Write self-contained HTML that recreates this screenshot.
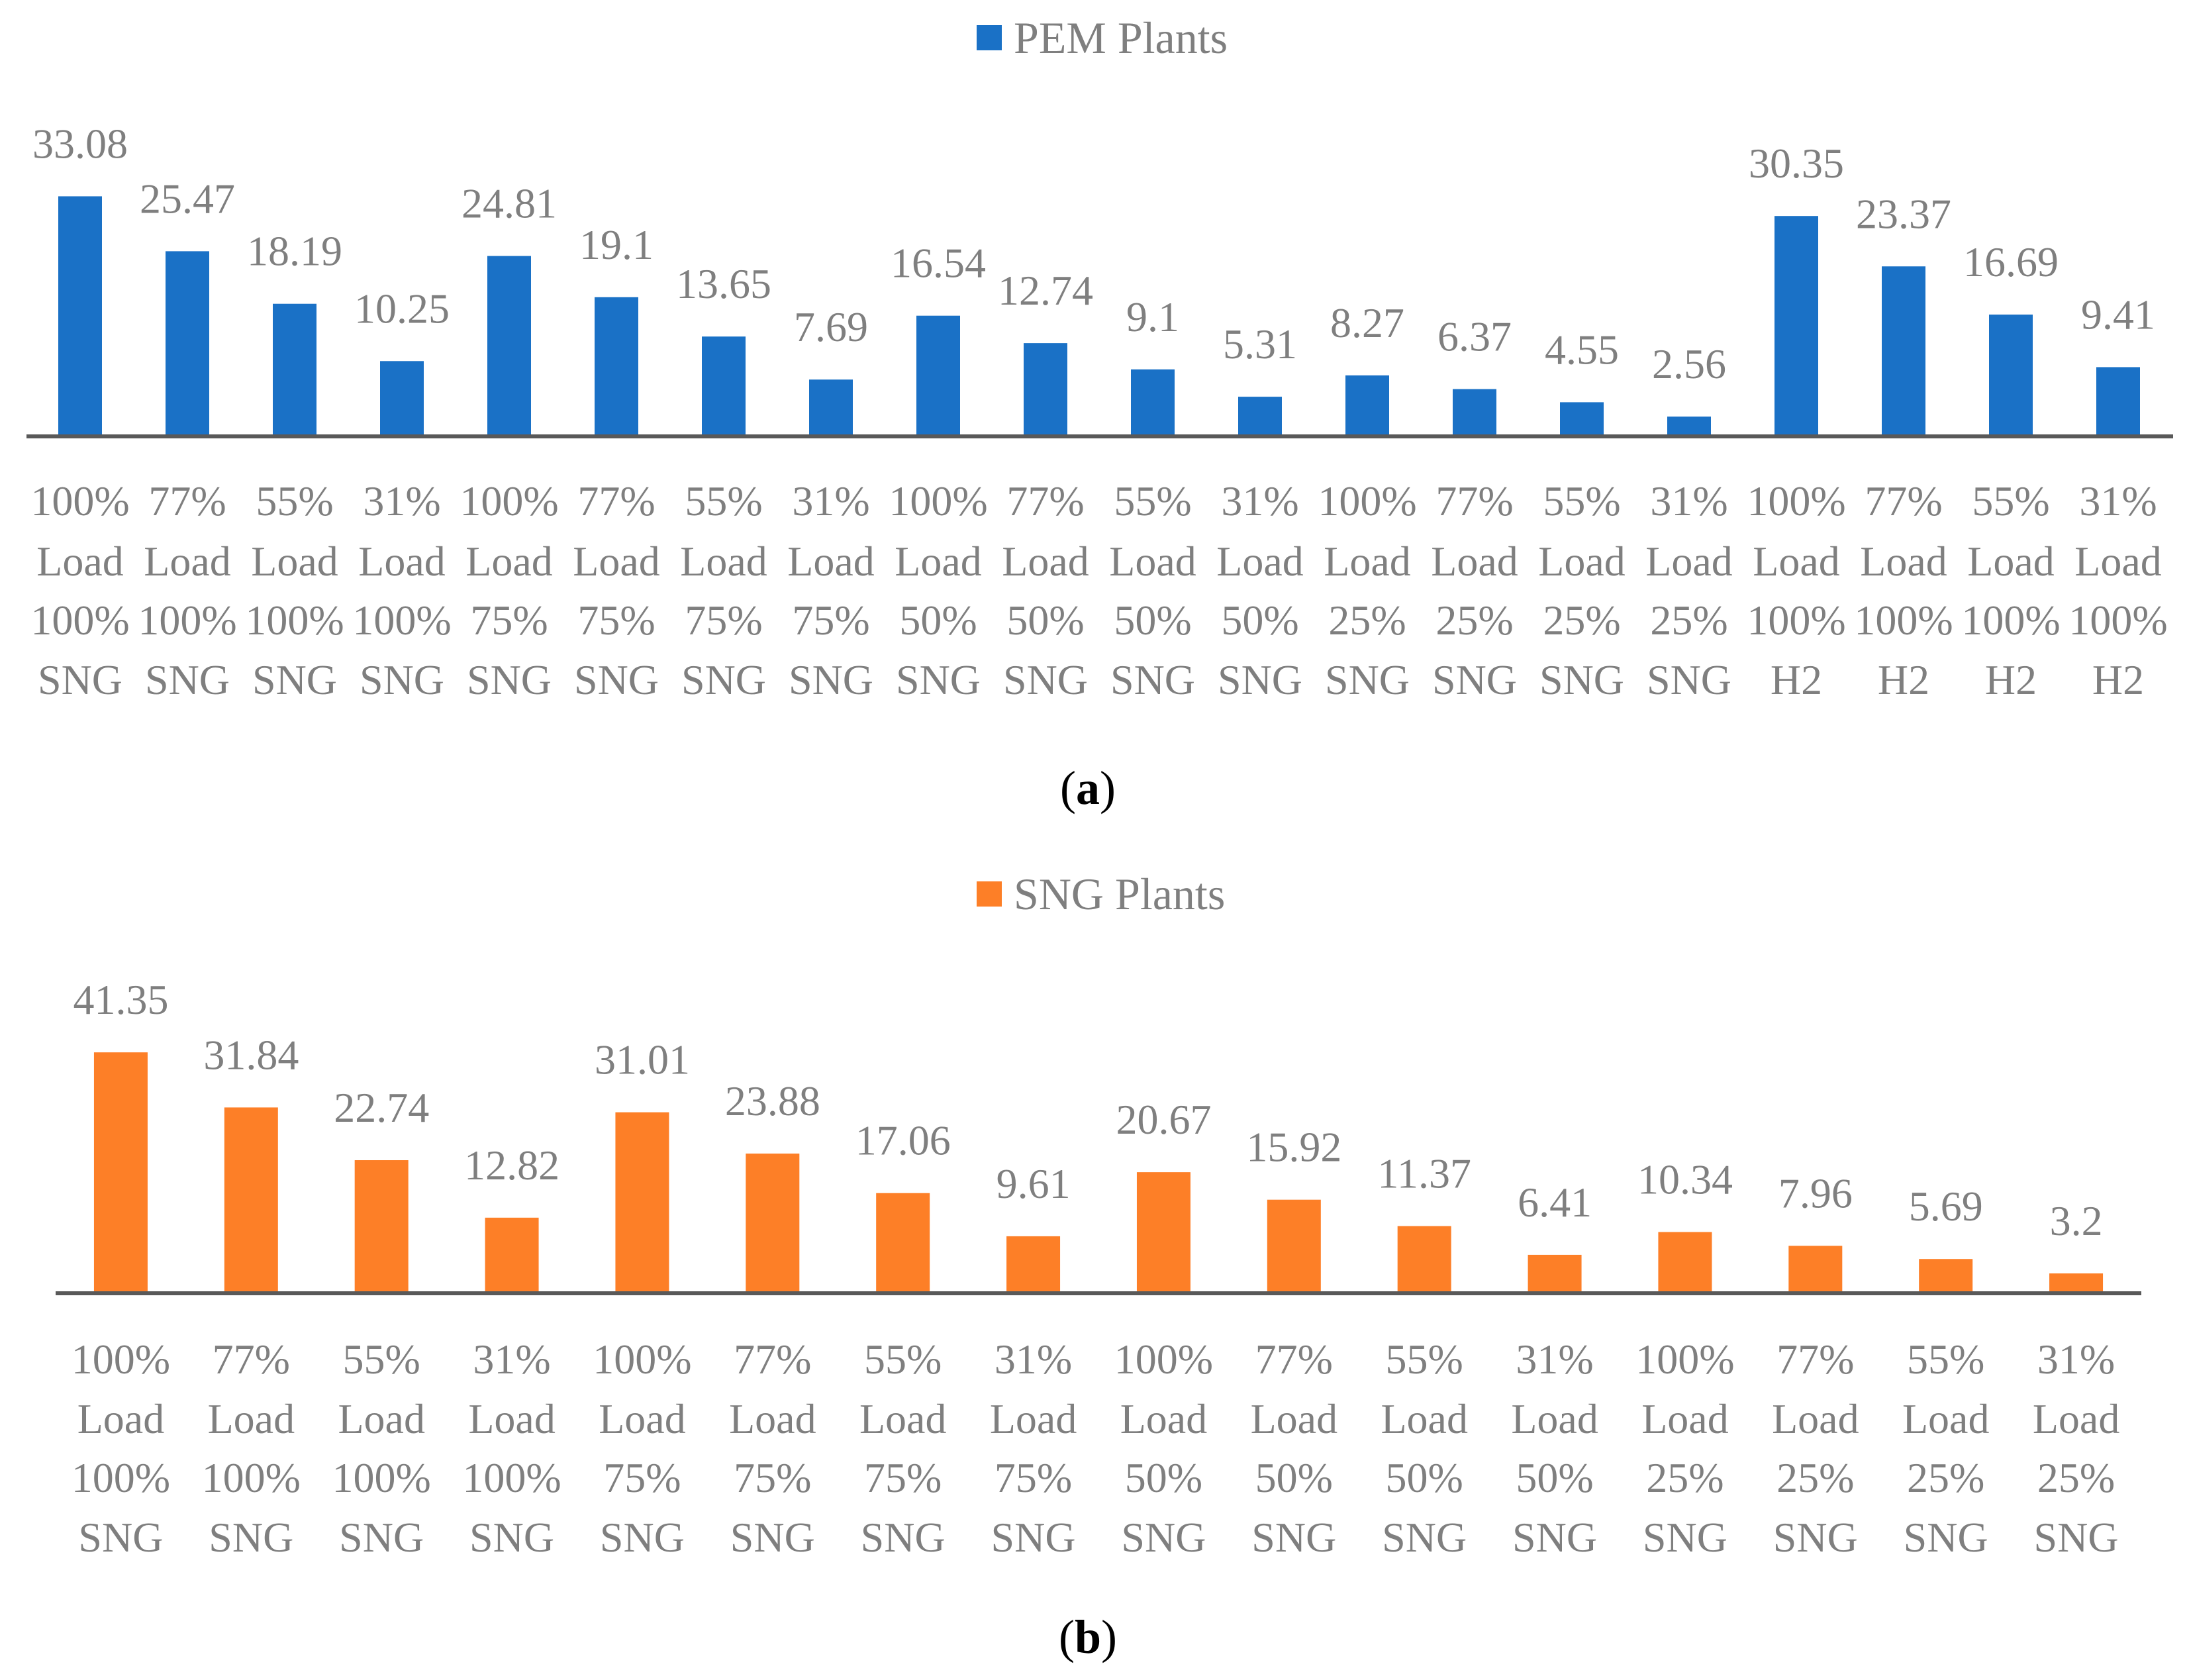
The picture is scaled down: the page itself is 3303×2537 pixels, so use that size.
<!DOCTYPE html>
<html><head><meta charset="utf-8"><style>
html,body{margin:0;padding:0;background:#fff}
svg text{font-family:"Liberation Serif",serif;fill:#7f7f7f}
</style></head><body>
<svg id="c" width="3303" height="2532" xmlns="http://www.w3.org/2000/svg">
<rect x="0" y="0" width="3303" height="2532" fill="#fff"/>
<rect x="1475" y="38" width="38" height="38" fill="#1a71c6"/>
<text x="1531" y="80" font-size="68">PEM Plants</text>
<text x="1643" y="1214" font-size="72" text-anchor="middle" style="fill:#000">(<tspan font-weight="bold">a</tspan>)</text>
<rect x="1475" y="1331" width="38" height="38" fill="#fd7f27"/>
<text x="1531" y="1373" font-size="68">SNG Plants</text>
<text x="1643" y="2496" font-size="72" text-anchor="middle" style="fill:#000">(<tspan font-weight="bold">b</tspan>)</text>
<g id="ga"></g><g id="gb"></g>
</svg>
<script>
const pemLoads = ["100%","77%","55%","31%","100%","77%","55%","31%","100%","77%","55%","31%","100%","77%","55%","31%","100%","77%","55%","31%"];
const pemMix = ["100%","100%","100%","100%","75%","75%","75%","75%","50%","50%","50%","50%","25%","25%","25%","25%","100%","100%","100%","100%"];
const pemGas = ["SNG","SNG","SNG","SNG","SNG","SNG","SNG","SNG","SNG","SNG","SNG","SNG","SNG","SNG","SNG","SNG","H2","H2","H2","H2"];
const pemValues = [33.08,25.47,18.19,10.25,24.81,19.1,13.65,7.69,16.54,12.74,9.1,5.31,8.27,6.37,4.55,2.56,30.35,23.37,16.69,9.41];
const sngLoads = ["100%","77%","55%","31%","100%","77%","55%","31%","100%","77%","55%","31%","100%","77%","55%","31%"];
const sngMix = ["100%","100%","100%","100%","75%","75%","75%","75%","50%","50%","50%","50%","25%","25%","25%","25%"];
const sngGas = ["SNG","SNG","SNG","SNG","SNG","SNG","SNG","SNG","SNG","SNG","SNG","SNG","SNG","SNG","SNG","SNG"];
const sngValues = [41.35,31.84,22.74,12.82,31.01,23.88,17.06,9.61,20.67,15.92,11.37,6.41,10.34,7.96,5.69,3.2];
const NS="http://www.w3.org/2000/svg";
function draw(gid,loads,mix,gas,vals,cfg){
  const g=document.getElementById(gid);
  const n=vals.length, step=(cfg.x1-cfg.x0)/n;
  const xs=i=>cfg.x0+step*(i+0.5);
  const ys=v=>cfg.base-v*cfg.ppu;
  vals.forEach((v,i)=>{
    const r=document.createElementNS(NS,'rect');
    
    
    r.setAttribute('x',xs(i)-cfg.bw/2);r.setAttribute('y',ys(v));
    r.setAttribute('width',cfg.bw);r.setAttribute('height',cfg.base-ys(v));
    r.setAttribute('fill',cfg.color);g.appendChild(r);
    const t=document.createElementNS(NS,'text');
    
    
    t.setAttribute('x',xs(i));t.setAttribute('y',ys(v)-58);
    t.setAttribute('text-anchor','middle');t.setAttribute('font-size','64');
    t.textContent=String(v);g.appendChild(t);
    const lines=[loads[i],'Load',mix[i],gas[i]];
    lines.forEach((s,k)=>{
      const c=document.createElementNS(NS,'text');
      
      
      c.setAttribute('x',xs(i));c.setAttribute('y',cfg.lab[k]);
      c.setAttribute('text-anchor','middle');c.setAttribute('font-size','64');
      c.textContent=s;g.appendChild(c);
    });
  });
  const a=document.createElementNS(NS,'line');
  
  
  a.setAttribute('x1',cfg.ax0);a.setAttribute('x2',cfg.ax1);
  a.setAttribute('y1',cfg.base+2);a.setAttribute('y2',cfg.base+2);
  a.setAttribute('stroke','#595959');a.setAttribute('stroke-width','6');g.appendChild(a);
}
draw('ga',pemLoads,pemMix,pemGas,pemValues,{x0:40,x1:3280,ax0:40,ax1:3282,base:657,ppu:10.9,bw:66,color:'#1a71c6',lab:[778,869,958,1048]});
draw('gb',sngLoads,sngMix,sngGas,sngValues,{x0:84,x1:3234,ax0:84,ax1:3234,base:1951,ppu:8.75,bw:81,color:'#fd7f27',lab:[2074,2164,2253,2343]});
</script>
</body></html>
